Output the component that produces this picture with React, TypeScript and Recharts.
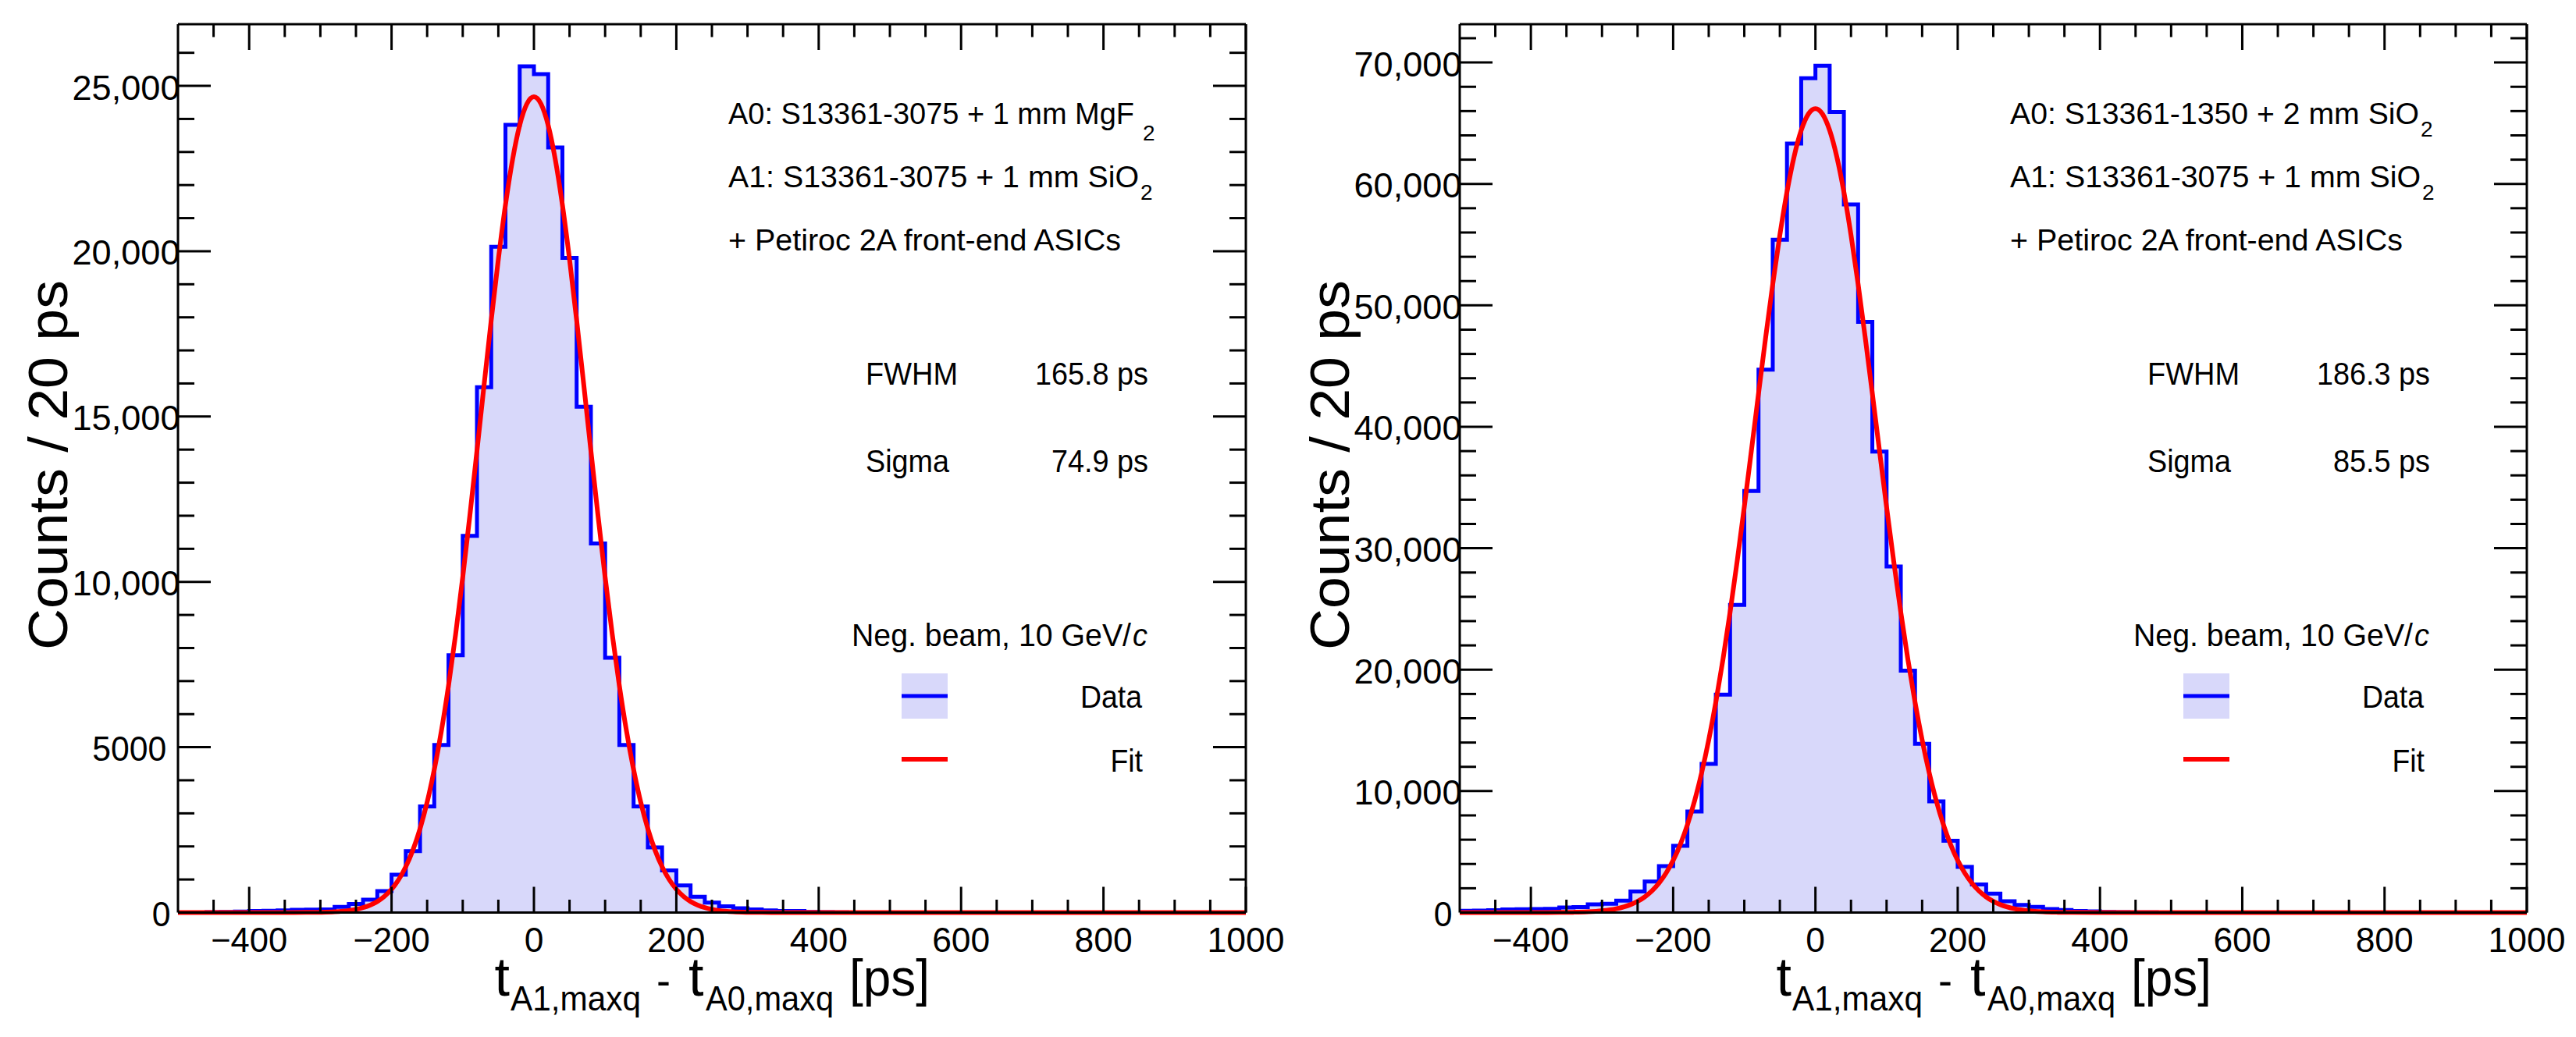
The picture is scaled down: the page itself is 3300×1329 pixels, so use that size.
import React from "react";
import { ComposedChart, Area, Line, XAxis, YAxis, ReferenceLine } from "recharts";

// bin lower edges (20 ps bins) plus the upper edge of the last bin
const binEdges = [
  -500, -480, -460, -440, -420, -400, -380, -360, -340, -320, -300, -280, -260, -240, -220, -200,
  -180, -160, -140, -120, -100, -80, -60, -40, -20, 0, 20, 40, 60, 80, 100, 120, 140, 160, 180,
  200, 220, 240, 260, 280, 300, 320, 340, 360, 380, 400, 420, 440, 460, 480, 500, 520, 540, 560,
  580, 600, 620, 640, 660, 680, 700, 720, 740, 760, 780, 800, 820, 840, 860, 880, 900, 920, 940,
  960, 980, 1000,
];

// left: MgF2 / SiO2 pair
const countsA = [
  0, 0, 10, 20, 30, 45, 55, 65, 80, 90, 95, 170, 262, 387, 651, 1147,
  1859, 3209, 5068, 7782, 11392, 15887, 20134, 23820, 25590, 25354, 23136, 19795, 15298, 11161, 7704, 5068, 3209, 1968, 1272,
  820, 480, 300, 186, 130, 94, 66, 50, 45, 20, 10, 5, 0, 0, 0, 0, 0, 0, 0,
  0, 0, 0, 0, 0, 0, 0, 0, 0, 0, 0, 0, 0, 0, 0, 0, 0, 0, 0,
  0, 0,
];

// right: SiO2 / SiO2 pair
const countsB = [
  140, 160, 190, 250, 280, 290, 300, 420, 450, 680, 730, 983, 1742, 2558, 3820, 5500,
  8318, 12245, 17947, 25333, 34711, 44713, 55397, 63320, 68700, 69730, 65920, 58320, 48641, 37957, 28502, 19927, 13891, 9160, 5914,
  3760, 2320, 1562, 926, 630, 463, 296, 212, 130, 90, 50, 30, 20, 10, 0, 0, 0, 0, 0,
  0, 0, 0, 0, 0, 0, 0, 0, 0, 0, 0, 0, 0, 0, 0, 0, 0, 0, 0,
  0, 0,
];

const fitX = [
  -500, -400, -360, -340, -320, -300, -280,
  -260, -250, -240, -230, -220, -210, -200, -190, -180, -170, -160, -150, -140, -130, -120, -110, -100,
  -90, -80, -70, -60, -50, -40, -30, -20, -10, 0, 10, 20, 30, 40, 50, 60, 70, 80, 90,
  100, 110, 120, 130, 140, 150, 160, 170, 180, 190, 200, 210, 220, 230, 240, 250, 260,
  280, 300, 320, 340, 360, 400, 1000,
];

const fitA = [
  0, 0, 0, 1, 3, 8, 23,
  61, 95, 148, 224, 334, 489, 705, 997, 1385, 1890, 2535, 3339, 4320, 5492, 6859, 8415, 10142,
  12008, 13967, 15959, 17914, 19754, 21400, 22773, 23808, 24452, 24670, 24452, 23808, 22773, 21400, 19754, 17914, 15959, 13967, 12008,
  10142, 8415, 6859, 5492, 4320, 3339, 2535, 1890, 1385, 997, 705, 489, 334, 224, 148, 95, 61,
  23, 8, 3, 1, 0, 0, 0,
];

const fitB = [
  0, 1, 9, 24, 60, 141, 310,
  650, 921, 1288, 1777, 2417, 3243, 4292, 5604, 7219, 9171, 11494, 14208, 17326, 20838, 24723, 28935, 33405,
  38041, 42731, 47348, 51751, 55795, 59337, 62248, 64413, 65749, 66200, 65749, 64413, 62248, 59337, 55795, 51751, 47348, 42731, 38041,
  33405, 28935, 24723, 20838, 17326, 14208, 11494, 9171, 7219, 5604, 4292, 3243, 2417, 1777, 1288, 921, 650,
  310, 141, 60, 24, 9, 1, 0,
];

const xTicks = [
  -450, -400, -350, -300, -250, -200, -150, -100, -50, 0, 50, 100, 150, 200, 250, 300, 350, 400,
  450, 500, 550, 600, 650, 700, 750, 800, 850, 900, 950, 1000,
];
const xLabels = [-400, -200, 0, 200, 400, 600, 800, 1000];

const yTicksA = [
  0, 1000, 2000, 3000, 4000, 5000, 6000, 7000, 8000, 9000, 10000, 11000, 12000, 13000, 14000,
  15000, 16000, 17000, 18000, 19000, 20000, 21000, 22000, 23000, 24000, 25000, 26000,
];
const yLabelsA = [0, 5000, 10000, 15000, 20000, 25000];

const yTicksB = [
  0, 2000, 4000, 6000, 8000, 10000, 12000, 14000, 16000, 18000, 20000, 22000, 24000, 26000,
  28000, 30000, 32000, 34000, 36000, 38000, 40000, 42000, 44000, 46000, 48000, 50000, 52000,
  54000, 56000, 58000, 60000, 62000, 64000, 66000, 68000, 70000, 72000,
];
const yLabelsB = [0, 10000, 20000, 30000, 40000, 50000, 60000, 70000];

const FONT = "'Liberation Sans', Arial, Helvetica, sans-serif";
const FILL = "#d8d8fa";
const CH = 1329;
const TOP = 31;
const BOTTOM = 1169.5;
const AXIS_W = 200;
const AXIS_H = 100;

function fmtY(v: number) {
  return v >= 10000 ? v.toLocaleString("en-US") : String(v);
}

function fmtX(v: number) {
  return v < 0 ? "\u2212" + Math.abs(v) : String(v);
}

function Txt({ x, y, size, len, anchor = "start", children, italic }: any) {
  const x0 = anchor === "end" ? x - len : anchor === "middle" ? x - len / 2 : x;
  return (
    <text
      x={x0}
      y={y}
      fontSize={size}
      fontFamily={FONT}
      fontStyle={italic ? "italic" : "normal"}
      textLength={len}
      lengthAdjust="spacingAndGlyphs"
      fill="#000"
    >
      {children}
    </text>
  );
}

function Panel({ pageLeft, width, frameLeft, frameRight, counts, fit, yMax, yTicks, yLabels }: any) {
  const hist = binEdges.map((x, i) => ({ x, c: counts[Math.min(i, counts.length - 1)] }));
  const fitData = fitX.map((x, i) => ({ x, f: fit[i] }));

  const xTick = (p: any) => {
    const v = p.payload.value;
    const x = p.x;
    const major = xLabels.includes(v);
    const len = major ? 33 : 16.5;
    const s = fmtX(v);
    const w = (s.length - (v < 0 ? 1 : 0)) * 24.7 + (v < 0 ? 24 : 0);
    return (
      <g>
        <line x1={x} x2={x} y1={BOTTOM} y2={BOTTOM - len} stroke="#000" strokeWidth={3} />
        <line x1={x} x2={x} y1={TOP} y2={TOP + len} stroke="#000" strokeWidth={3} />
        {major && (
          <Txt x={x} y={BOTTOM + 50.5} size={45} len={w} anchor="middle">
            {s}
          </Txt>
        )}
      </g>
    );
  };

  const yTick = (p: any) => {
    const v = p.payload.value;
    const y = p.y;
    const major = yLabels.includes(v);
    const len = major ? 42 : 21;
    const s = fmtY(v);
    const commas = (s.match(/,/g) || []).length;
    const w = (s.length - commas) * 23.75 + commas * 19.25;
    const end = commas ? frameLeft + 2.5 : s.length === 1 ? frameLeft - 9.6 : frameLeft - 14.7;
    return (
      <g>
        <line x1={frameLeft} x2={frameLeft + len} y1={y} y2={y} stroke="#000" strokeWidth={3} />
        <line x1={frameRight} x2={frameRight - len} y1={y} y2={y} stroke="#000" strokeWidth={3} />
        {major && (
          <Txt x={end} y={y + 17.5} size={45} len={w} anchor="end">
            {s}
          </Txt>
        )}
      </g>
    );
  };

  return (
    <div style={{ position: "absolute", left: pageLeft, top: 0 }}>
      <ComposedChart
        width={width}
        height={CH}
        margin={{
          top: TOP,
          bottom: CH - BOTTOM - AXIS_H,
          left: frameLeft - AXIS_W,
          right: width - frameRight,
        }}
      >
        <Area
          xAxisId="b"
          yAxisId="l"
          data={hist}
          dataKey="c"
          type="stepAfter"
          stroke="#0000ff"
          strokeWidth={5}
          fill={FILL}
          fillOpacity={1}
          dot={false}
          activeDot={false}
          isAnimationActive={false}
        />
        <Line
          xAxisId="b"
          yAxisId="l"
          data={fitData}
          dataKey="f"
          type="monotone"
          stroke="#ff0000"
          strokeWidth={6}
          dot={false}
          activeDot={false}
          isAnimationActive={false}
        />
        <XAxis
          xAxisId="b"
          dataKey="x"
          type="number"
          domain={[-500, 1000]}
          ticks={xTicks}
          interval={0}
          height={AXIS_H}
          axisLine={{ stroke: "#000", strokeWidth: 3 }}
          tickLine={false}
          tick={xTick}
        />
        <YAxis
          yAxisId="l"
          type="number"
          domain={[0, yMax]}
          ticks={yTicks}
          interval={0}
          width={AXIS_W}
          axisLine={{ stroke: "#000", strokeWidth: 3 }}
          tickLine={false}
          tick={yTick}
        />
        <ReferenceLine xAxisId="b" yAxisId="l" y={yMax} stroke="#000" strokeWidth={3} />
        <ReferenceLine xAxisId="b" yAxisId="l" x={1000} stroke="#000" strokeWidth={3} />
      </ComposedChart>
    </div>
  );
}

function Notes({ fx, lines, fwhm, sigma }: any) {
  return (
    <g>
      {lines.map((l: any, i: number) => (
        <g key={i}>
          <Txt x={fx + 705} y={l.y} size={38} len={l.len}>
            {l.text}
          </Txt>
          {l.sub && (
            <text x={fx + l.subX} y={l.subY} fontSize={28} fontFamily={FONT}>
              {l.sub}
            </text>
          )}
        </g>
      ))}
      <Txt x={fx + 881} y={493} size={40} len={118}>FWHM</Txt>
      <Txt x={fx + 1243} y={493} size={40} len={145} anchor="end">{fwhm}</Txt>
      <Txt x={fx + 881} y={605} size={40} len={107}>Sigma</Txt>
      <Txt x={fx + 1243} y={605} size={40} len={124} anchor="end">{sigma}</Txt>

      <Txt x={fx + 863} y={828} size={40} len={358}>Neg. beam, 10 GeV/</Txt>
      <Txt x={fx + 1223} y={828} size={40} len={19} italic>c</Txt>
      <rect x={fx + 927} y={863} width={59} height={58} fill={FILL} />
      <line x1={fx + 927} x2={fx + 986} y1={892} y2={892} stroke="#0000ff" strokeWidth={5} />
      <Txt x={fx + 1235} y={907} size={40} len={79} anchor="end">Data</Txt>
      <line x1={fx + 927} x2={fx + 986} y1={973} y2={973} stroke="#ff0000" strokeWidth={6} />
      <Txt x={fx + 1236} y={989} size={40} len={41.5} anchor="end">Fit</Txt>

      <text
        transform={`rotate(-90 ${fx - 142} 596)`}
        x={fx - 142 - 237}
        y={596}
        fontSize={70}
        fontFamily={FONT}
        textLength={474}
        lengthAdjust="spacingAndGlyphs"
      >
        Counts / 20 ps
      </text>

      <text x={fx + 405.5} y={1276} fontSize={70} fontFamily={FONT}>t</text>
      <Txt x={fx + 426} y={1295} size={44} len={167}>A1,maxq</Txt>
      <Txt x={fx + 613} y={1276} size={56} len={18}>-</Txt>
      <text x={fx + 654} y={1276} fontSize={70} fontFamily={FONT}>t</text>
      <Txt x={fx + 676} y={1295} size={44} len={164}>A0,maxq</Txt>
      <Txt x={fx + 860} y={1276} size={66} len={103}>[ps]</Txt>
    </g>
  );
}

export default function App() {
  return (
    <div style={{ position: "absolute", left: 0, top: 0, width: 3300, height: 1329, background: "#fff" }}>
      <Panel
        pageLeft={0}
        width={1700}
        frameLeft={228}
        frameRight={1596}
        counts={countsA}
        fit={fitA}
        yMax={26865}
        yTicks={yTicksA}
        yLabels={yLabelsA}
      />
      <Panel
        pageLeft={1650}
        width={1650}
        frameLeft={220}
        frameRight={1587}
        counts={countsB}
        fit={fitB}
        yMax={73155}
        yTicks={yTicksB}
        yLabels={yLabelsB}
      />
      <svg
        width={3300}
        height={1329}
        style={{ position: "absolute", left: 0, top: 0, pointerEvents: "none" }}
      >
        <Notes
          fx={228}
          fwhm="165.8 ps"
          sigma="74.9 ps"
          lines={[
            { text: "A0: S13361-3075 + 1 mm MgF", y: 159, len: 520, sub: "2", subX: 1236, subY: 180 },
            { text: "A1: S13361-3075 + 1 mm SiO", y: 240, len: 526, sub: "2", subX: 1233, subY: 256 },
            { text: "+ Petiroc 2A front-end ASICs", y: 321, len: 503 },
          ]}
        />
        <Notes
          fx={1870}
          fwhm="186.3 ps"
          sigma="85.5 ps"
          lines={[
            { text: "A0: S13361-1350 + 2 mm SiO", y: 159, len: 524, sub: "2", subX: 1231, subY: 175 },
            { text: "A1: S13361-3075 + 1 mm SiO", y: 240, len: 526, sub: "2", subX: 1233, subY: 256 },
            { text: "+ Petiroc 2A front-end ASICs", y: 321, len: 503 },
          ]}
        />
      </svg>
    </div>
  );
}
